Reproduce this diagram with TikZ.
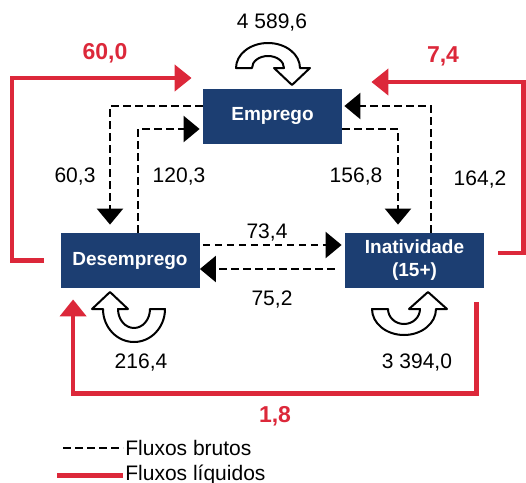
\documentclass[tikz,border=0pt]{standalone}
\usepackage{fontspec}
\setmainfont{Liberation Sans}
\usetikzlibrary{arrows.meta}
\definecolor{azul}{RGB}{28,62,114}
\definecolor{vermelho}{RGB}{220,40,58}
\tikzset{
    caixa/.style={fill=azul, text=white, font=\bfseries\fontsize{9.5}{11.5}\selectfont,
        minimum width=69.5pt, minimum height=27.5pt, inner sep=0pt, align=center},
    num/.style={font=\fontsize{10.5}{12}\selectfont},
    rotulo/.style={text=vermelho, font=\bfseries\fontsize{11.5}{13}\selectfont},
    bruto/.style={line width=1.2pt, dash pattern=on 3.75pt off 2.25pt,
        -{Triangle[width=13pt, length=8pt]}},
    liquido/.style={draw=vermelho, line width=2.25pt,
        -{Triangle[width=13pt, length=8.5pt]}},
    laco/.style={draw=black, fill=white, line width=1pt, line join=round},
}
\begin{document}
\begin{tikzpicture}[x=0.5pt, y=0.5pt]
            \useasboundingbox (0,0) rectangle (526,-483);
            % estados
            \node[caixa] (emprego) at (272.5,-116) {Emprego};
            \node[caixa] (desemprego) at (130,-260.5) {Desemprego};
            \node[caixa] (inatividade) at (414.5,-260.5) {Inatividade\\(15+)};
            % fluxos brutos
            \draw[bruto] ([yshift=5pt]emprego.west) -| ([xshift=-10pt,yshift=4pt]desemprego.north);
            \draw[bruto, shorten >=1.5pt] ([xshift=4pt]desemprego.north) |- ([yshift=-6.5pt]emprego.west);
            \draw[bruto] ([yshift=-6.5pt]emprego.east) -| ([xshift=-8.25pt,yshift=4pt]inatividade.north);
            \draw[bruto, shorten >=1pt] ([xshift=8.25pt]inatividade.north) |- ([yshift=5pt]emprego.east);
            \draw[bruto, shorten <=1.5pt, shorten >=1.5pt] ([yshift=7.75pt]desemprego.east) -- ([yshift=7.75pt]inatividade.west);
            \draw[bruto, shorten <=5pt] ([yshift=-4.25pt]inatividade.west) -- ([yshift=-4.25pt]desemprego.east);
            % fluxos liquidos
            \draw[liquido] ([xshift=-8pt]desemprego.west) -- ++(-32,0) |- ([xshift=-5.5pt,yshift=19pt]emprego.west);
            \draw[liquido] ([xshift=7pt,yshift=3.75pt]inatividade.east) -- ++(25,0) |- ([xshift=14.5pt,yshift=17pt]emprego.east);
            \draw[liquido] ([xshift=-4pt,yshift=-7pt]inatividade.south east) -- ++(0,-91) -| ([xshift=6.5pt,yshift=-5.5pt]desemprego.south west);
            % permanencias
            \draw[laco] (236,-68) arc[start angle=180, end angle=0, x radius=32, y radius=25]
                -- (310,-68) -- (292,-85) -- (274,-68) -- (284,-68)
                arc[start angle=0, end angle=180, x radius=16, y radius=12] -- cycle;
            \draw[laco] (165,-309) arc[start angle=0, end angle=-180, x radius=31, y radius=33]
                -- (92,-309) -- (110,-292) -- (128,-309) -- (118,-309)
                arc[start angle=180, end angle=360, x radius=16, y radius=19] -- cycle;
            \draw[laco] (372,-309) arc[start angle=180, end angle=360, x radius=32, y radius=26]
                -- (447,-309) -- (428,-292) -- (409,-309) -- (420,-309)
                arc[start angle=0, end angle=-180, x radius=16, y radius=15] -- cycle;
            % valores
            \node[num] (vEE) at (272,-23) {4 589,6};
            \node[num] (vED) at (75,-177) {60,3};
            \node[num] (vDE) at (179,-177) {120,3};
            \node[num] (vEI) at (356,-177) {156,8};
            \node[num] (vIE) at (480,-180) {164,2};
            \node[num] (vDI) at (267,-233) {73,4};
            \node[num] (vID) at (272,-300) {75,2};
            \node[num] (vDD) at (141,-363) {216,4};
            \node[num] (vII) at (417,-363) {3 394,0};
            \node[rotulo] (lDE) at (105,-53) {60,0};
            \node[rotulo] (lIE) at (443,-56) {7,4};
            \node[rotulo] (lID) at (275,-416) {1,8};
            % legenda
            \coordinate (b1) at (63,-448);
            \coordinate (b2) at (123,-448);
            \coordinate (l1) at (57,-475);
            \coordinate (l2) at (123,-475);
            \draw[line width=1.2pt, dash pattern=on 3.75pt off 2.25pt] (b1) -- (b2);
            \draw[vermelho, line width=2.5pt] (l1) -- (l2);
            \node[num, anchor=west, inner sep=1pt] (tb) at (b2) {Fluxos brutos};
            \node[num, anchor=west, inner sep=1pt] (tl) at (l2) {Fluxos líquidos};
\end{tikzpicture}
\end{document}
